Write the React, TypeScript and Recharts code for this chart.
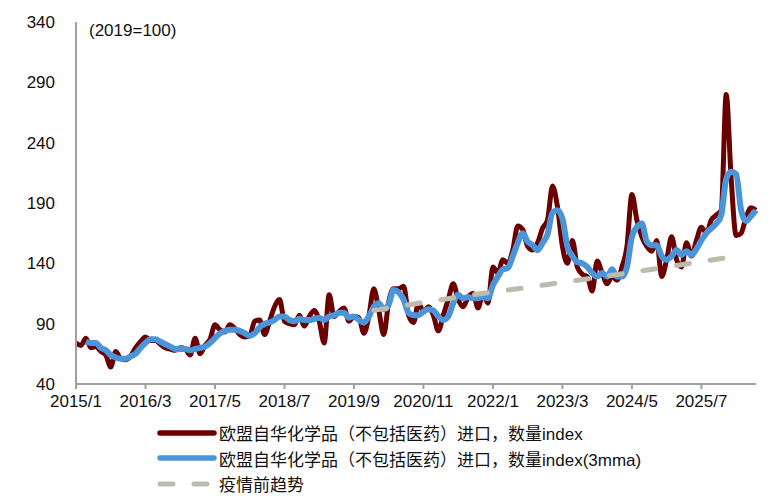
import { LineChart, Line, XAxis, YAxis, Legend } from "recharts";

// monthly labels 2015/1 .. 2026/6
const months: string[] = [];
for (let y = 2015; y <= 2026; y++) {
  for (let m = 1; m <= 12; m++) {
    if (y === 2026 && m > 6) break;
    months.push(y + "/" + m);
  }
}

// 欧盟自华化学品（不包括医药）进口，数量index
const imports = [
  74, 72, 78, 70, 71, 67, 64, 54, 67, 61, 60, 63,
  70, 75, 79, 76, 76, 73, 70, 69, 68, 70, 69, 64,
  78, 65, 72, 77, 89, 85, 83, 89, 86, 81, 79, 80,
  92, 93, 81, 92, 104, 110, 92, 90, 89, 97, 88, 96,
  101, 92, 74, 114, 96, 100, 103, 92, 96, 95, 82, 96,
  119, 101, 81, 108, 119, 119, 121, 97, 91, 107, 100, 104,
  97, 84, 97, 110, 123, 110, 104, 112, 115, 103, 115, 107,
  137, 132, 143, 140, 151, 171, 168, 154, 151, 157, 169, 176,
  204, 187, 154, 140, 159, 137, 131, 129, 117, 142, 132, 123,
  129, 126, 137, 154, 197, 176, 162, 154, 150, 159, 129, 143,
  162, 143, 137, 157, 146, 159, 170, 165, 176, 180, 184, 280,
  210, 163, 165, 178, 186, 184,
];

// 3mma
const imports3mma = [
  null, null, 75, 74, 74, 70, 68, 64, 62, 61, 61, 63,
  65, 70, 74, 77, 77, 75, 73, 71, 69, 69, 69, 68,
  69, 70, 71, 74, 78, 82, 84, 85, 85, 84, 82, 80,
  82, 87, 90, 91, 93, 96, 96, 93, 92, 94, 93, 93,
  94, 95, 93, 96, 97, 99, 99, 95, 96, 93, 91, 96,
  104, 107, 102, 106, 118, 116, 110, 99, 97, 97, 100, 102,
  101, 96, 93, 96, 107, 114, 111, 112, 111, 111, 112, 111,
  122, 129, 135, 136, 146, 157, 165, 158, 155, 151, 157, 164,
  182, 184, 177, 154, 146, 141, 140, 137, 132, 129, 132, 129,
  135, 129, 129, 137, 162, 170, 173, 158, 155, 155, 146, 143,
  146, 151, 147, 150, 147, 152, 159, 165, 169, 173, 180, 210,
  216, 214, 184, 175, 179, 184,
];

// 疫情前趋势: points (month index, value)
const trendPoints: [number, number][] = [
  [60, 101],
  [80, 114],
  [97, 123.5],
  [112, 132.5],
  [133, 146],
];

const yTicks = [40, 90, 140, 190, 240, 290, 340];

const names = [
  "欧盟自华化学品（不包括医药）进口，数量index",
  "欧盟自华化学品（不包括医药）进口，数量index(3mma)",
  "疫情前趋势",
];

const data = months.map((m, i) => {
  const t = trendPoints.find((p) => p[0] === i);
  return {
    month: m,
    imports: imports[i],
    imports3mma: imports3mma[i],
    trend: t ? t[1] : null,
  };
});

const font = "Arial, 'Liberation Sans', 'Noto Sans CJK SC', sans-serif";
const red = "#6B0000";
const blue = "#4A95DA";
const grey = "#BDBCAC";

const LegendBox = () => (
  <div style={{ fontFamily: font, fontSize: 17, color: "#111" }}>
    {[
      { c: red, w: 5.5, dash: undefined },
      { c: blue, w: 5.5, dash: undefined },
      { c: grey, w: 5, dash: "13 21" },
    ].map((it, i) => (
      <div
        key={i}
        style={{ display: "flex", alignItems: "center", height: 25.5, whiteSpace: "nowrap" }}
      >
        <svg width={63} height={10}>
          <line
            x1={4}
            y1={5}
            x2={58}
            y2={5}
            stroke={it.c}
            strokeWidth={it.w}
            strokeLinecap="round"
            strokeDasharray={it.dash}
          />
        </svg>
        <span>{names[i]}</span>
      </div>
    ))}
  </div>
);

export default function App() {
  return (
    <div style={{ position: "absolute", left: 0, top: 0, width: 776, height: 496, background: "#fff" }}>
      <div
        style={{
          position: "absolute",
          left: 89,
          top: 21,
          fontFamily: font,
          fontSize: 17,
          color: "#111",
          zIndex: 2,
        }}
      >
        (2019=100)
      </div>
      <LineChart
        width={776}
        height={496}
        data={data}
        margin={{ top: 22, right: 20, left: 16, bottom: 82 }}
      >
        <XAxis
          dataKey="month"
          interval={13}
          height={30}
          tickSize={5}
          tickMargin={6}
          stroke="#A0A0A0"
          strokeWidth={2}
          tick={{ fill: "#111", fontSize: 17, fontFamily: font }}
        />
        <YAxis
          domain={[40, 340]}
          ticks={yTicks}
          width={60}
          tickLine={false}
          tickSize={0}
          tickMargin={21}
          stroke="#A0A0A0"
          strokeWidth={2}
          tick={{ fill: "#111", fontSize: 17, fontFamily: font }}
        />
        <Legend
          layout="vertical"
          align="center"
          verticalAlign="middle"
          wrapperStyle={{ left: 156, top: 420, width: 560 }}
          content={() => <LegendBox />}
        />
        <Line
          dataKey="imports"
          type="monotone"
          stroke={red}
          strokeWidth={5}
          dot={false}
          activeDot={false}
          isAnimationActive={false}
        />
        <Line
          dataKey="imports3mma"
          type="monotone"
          stroke={blue}
          strokeWidth={6}
          dot={false}
          activeDot={false}
          isAnimationActive={false}
        />
        <Line
          dataKey="trend"
          type="linear"
          connectNulls
          stroke={grey}
          strokeWidth={5}
          strokeDasharray="13 21"
          strokeLinecap="round"
          dot={false}
          activeDot={false}
          isAnimationActive={false}
        />
      </LineChart>
    </div>
  );
}
